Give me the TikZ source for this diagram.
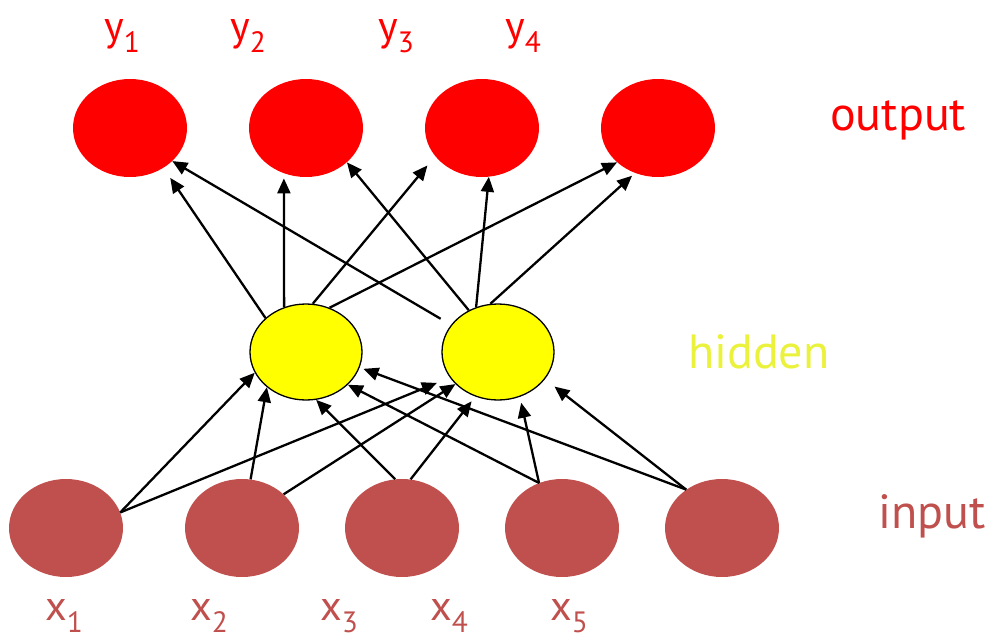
\documentclass[tikz,border=0pt]{standalone}
\usepackage{fontspec}
\setmainfont{PT Sans}
\usetikzlibrary{arrows.meta, shapes.geometric}
\definecolor{outred}{RGB}{255, 0, 0}
\definecolor{hidyellow}{RGB}{255, 255, 0}
\definecolor{hidtext}{RGB}{235, 242, 60}
\definecolor{inbrown}{RGB}{192, 80, 77}

\begin{document}
\begin{tikzpicture}[x=1pt, y=-1pt,
  outnode/.style={ellipse, fill=outred, minimum width=114pt, minimum height=98pt, inner sep=0pt},
  hidnode/.style={ellipse, fill=hidyellow, draw=black, line width=1.3pt, minimum width=112pt, minimum height=96pt, inner sep=0pt},
  innode/.style={ellipse, fill=inbrown, minimum width=114pt, minimum height=98pt, inner sep=0pt},
  link/.style={-{Triangle[length=15pt, width=13pt]}, line width=2.3pt},
  layertext/.style={font=\fontsize{48}{54}\selectfont, anchor=base west, inner sep=0pt},
  idxtext/.style={font=\fontsize{42}{48}\selectfont, anchor=base west, inner sep=0pt}]
  \useasboundingbox (0,0) rectangle (986,640);

  % output layer
  \node[outnode] (out1) at (130,128) {};
  \node[outnode] (out2) at (306,128) {};
  \node[outnode] (out3) at (482,128) {};
  \node[outnode] (out4) at (658,128) {};

  % hidden layer
  \node[hidnode] (hid1) at (306,352) {};
  \node[hidnode] (hid2) at (498,352) {};

  % input layer
  \node[innode] (in1) at (66,528) {};
  \node[innode] (in2) at (242,528) {};
  \node[innode] (in3) at (402,528) {};
  \node[innode] (in4) at (562,528) {};
  \node[innode] (in5) at (722,528) {};

  % input -> hidden
  \draw[link] (in1.16) -- (hid1.202);
  \draw[link, shorten >=14pt] (in1.16) -- (hid2.208);
  \draw[link] (in2.80) -- (hid1.222);
  \draw[link] (in2.39) -- (hid2.217);
  \draw[link] (in3.98) -- (hid1.282);
  \draw[link, shorten >=6pt] (in3.80) -- (hid2.243);
  \draw[link] (in4.117) -- (hid1.322);
  \draw[link, shorten >=6pt] (in4.117) -- (hid2.296);
  \draw[link, shorten >=4pt] (in5.133) -- (hid1.344);
  \draw[link, shorten >=12pt] (in5.133) -- (hid2.330);

  % hidden -> output
  \draw[link, shorten >=12pt] (hid1.140) -- (out1.310);
  \draw[link, shorten >=5pt] (hid1.116) -- (out2.244);
  \draw[link, shorten >=12pt] (hid1.82) -- (out3.211);
  \draw[link] (hid1.62) -- (out4.220);
  \draw[link, shorten <=12pt] (hid2.150) -- (out1.322);
  \draw[link] (hid2.125) -- (out2.320);
  \draw[link] (hid2.116) -- (out3.278);
  \draw[link, shorten >=4pt] (hid2.99) -- (out4.243);

  % layer names
  \node[layertext, outred] (outname) at (830,130) {output};
  \node[layertext, hidtext] (hidname) at (688,368) {hidden};
  \node[layertext, inbrown] (inname) at (878,528) {input};

  % unit labels
  \node[idxtext, outred] (ylab1) at (104,40) {y\textsubscript{1}};
  \node[idxtext, outred] (ylab2) at (230,40) {y\textsubscript{2}};
  \node[idxtext, outred] (ylab3) at (378,40) {y\textsubscript{3}};
  \node[idxtext, outred] (ylab4) at (505,40) {y\textsubscript{4}};
  \node[idxtext, inbrown] (xlab1) at (45,620) {x\textsubscript{1}};
  \node[idxtext, inbrown] (xlab2) at (190,620) {x\textsubscript{2}};
  \node[idxtext, inbrown] (xlab3) at (320,620) {x\textsubscript{3}};
  \node[idxtext, inbrown] (xlab4) at (430,620) {x\textsubscript{4}};
  \node[idxtext, inbrown] (xlab5) at (550,620) {x\textsubscript{5}};
\end{tikzpicture}
\end{document}
